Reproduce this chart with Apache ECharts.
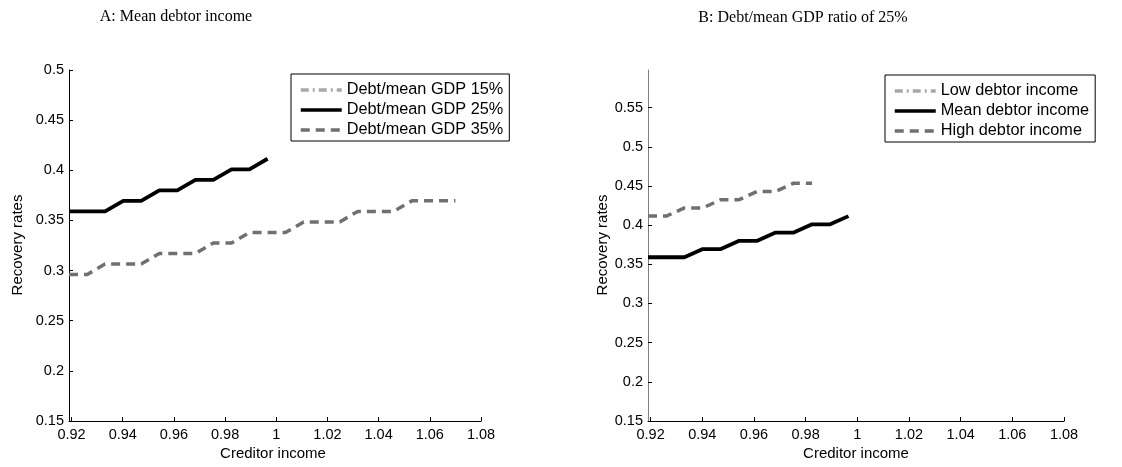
<!DOCTYPE html>
<html><head><meta charset="utf-8">
<script src="https://cdn.jsdelivr.net/npm/echarts@6/dist/echarts.min.js"></script>
<style>html,body{margin:0;padding:0;background:#fff}#c{width:1122px;height:467px}</style>
</head><body><div id="c"></div>
<script>
// ---- data ----
const creditorIncome = [0.9190, 0.9261, 0.9331, 0.9402, 0.9472, 0.9543, 0.9613, 0.9684, 0.9754, 0.9825, 0.9895,
  0.9966, 1.0036, 1.0107, 1.0177, 1.0248, 1.0318, 1.0389, 1.0459, 1.0530, 1.0610, 1.0700];
// Panel A: mean debtor income
const debt15 = [];
const debt25 = [0.359, 0.359, 0.359, 0.3695, 0.3695, 0.380, 0.380, 0.3905, 0.3905, 0.401, 0.401, 0.4115];
const debt35 = [0.296, 0.296, 0.3065, 0.3065, 0.3065, 0.317, 0.317, 0.317, 0.3275, 0.3275, 0.338, 0.338,
  0.338, 0.3485, 0.3485, 0.3485, 0.359, 0.359, 0.359, 0.3695, 0.3695, 0.3695];
// Panel B: debt/mean GDP 25%
const lowIncome = [];
const meanIncome = [0.359, 0.359, 0.359, 0.3695, 0.3695, 0.380, 0.380, 0.3905, 0.3905, 0.401, 0.401, 0.4115];
const highIncome = [0.4115, 0.4115, 0.422, 0.422, 0.4325, 0.4325, 0.443, 0.443, 0.4535, 0.4535];

const xTicks = [0.92, 0.94, 0.96, 0.98, 1, 1.02, 1.04, 1.06, 1.08];
const xTickLabels = ['0.92', '0.94', '0.96', '0.98', '1', '1.02', '1.04', '1.06', '1.08'];
const yTicksA = [0.15, 0.2, 0.25, 0.3, 0.35, 0.4, 0.45, 0.5];
const yTickLabelsA = ['0.15', '0.2', '0.25', '0.3', '0.35', '0.4', '0.45', '0.5'];
const yTicksB = [0.15, 0.2, 0.25, 0.3, 0.35, 0.4, 0.45, 0.5, 0.55];
const yTickLabelsB = ['0.15', '0.2', '0.25', '0.3', '0.35', '0.4', '0.45', '0.5', '0.55'];

const namesA = ['Debt/mean GDP 15%', 'Debt/mean GDP 25%', 'Debt/mean GDP 35%'];
const namesB = ['Low debtor income', 'Mean debtor income', 'High debtor income'];

// ---- helpers ----
const pairs = (ys) => ys.map((y, i) => [creditorIncome[i], y]);
const fmt = (ticks, labels) => (v) => {
  for (let i = 0; i < ticks.length; i++) if (Math.abs(ticks[i] - v) < 1e-9) return labels[i];
  return '';
};
const FONT = 'Liberation Sans';
function xAxis(idx) {
  return {
    type: 'value', gridIndex: idx, min: 0.919, max: 1.08,
    axisLine: { show: true, onZero: false, lineStyle: { color: '#000', width: 1 } },
    axisTick: { show: true, inside: true, length: 4, customValues: xTicks, lineStyle: { color: '#000', width: 1 } },
    axisLabel: { customValues: xTicks, formatter: fmt(xTicks, xTickLabels), color: '#000', fontSize: 14.5, fontFamily: FONT, margin: 6 },
    splitLine: { show: false }
  };
}
function yAxis(idx, max, ticks, labels, lineColor) {
  return {
    type: 'value', gridIndex: idx, min: 0.15, max: max,
    axisLine: { show: true, onZero: false, lineStyle: { color: lineColor, width: 1 } },
    axisTick: { show: true, inside: true, length: 4, customValues: ticks, lineStyle: { color: '#000', width: 1 } },
    axisLabel: { customValues: ticks, formatter: fmt(ticks, labels), color: '#000', fontSize: 14.5, fontFamily: FONT, margin: 5 },
    splitLine: { show: false }
  };
}
const styles = [
  { color: '#a8a8a8', width: 3.5, type: [8, 4, 2, 4] },
  { color: '#000000', width: 3.8, type: 'solid' },
  { color: '#707070', width: 3.5, type: [9, 6] }
];
function mkSeries(name, ys, st, gi) {
  return {
    name: name, type: 'line', xAxisIndex: gi, yAxisIndex: gi, data: pairs(ys),
    symbol: 'none', showSymbol: false, animation: false, silent: true,
    itemStyle: { color: st.color },
    lineStyle: { color: st.color, width: st.width, type: st.type }
  };
}
function legend(names, left, top) {
  return {
    data: names, left: left, top: top, orient: 'vertical',
    itemWidth: 41, itemHeight: 14, itemGap: 4, padding: [8, 6, 3, 8],
    borderColor: '#000', borderWidth: 1, backgroundColor: '#fff',
    selectedMode: false,
    itemStyle: { opacity: 0 },
    lineStyle: { width: 3.5 },
    textStyle: { fontSize: 16.3, fontFamily: FONT, color: '#000', lineHeight: 16 }
  };
}
function txt(text, x, y, opts) {
  return Object.assign({
    type: 'text', x: x, y: y, silent: true,
    style: Object.assign({ text: text, fill: '#000', textAlign: 'center', textVerticalAlign: 'middle',
      font: '15px "' + FONT + '"' }, opts && opts.style || {})
  }, opts && opts.rot ? { rotation: Math.PI / 2 } : {});
}

const chart = echarts.init(document.getElementById('c'), null, { renderer: 'canvas' });
chart.setOption({
  animation: false,
  backgroundColor: '#fff',
  grid: [
    { left: 69, right: 641, top: 70, bottom: 46 },
    { left: 648, right: 58, top: 70, bottom: 46 }
  ],
  xAxis: [xAxis(0), xAxis(1)],
  yAxis: [yAxis(0, 0.5, yTicksA, yTickLabelsA, '#000'), yAxis(1, 0.598, yTicksB, yTickLabelsB, '#808080')],
  legend: [legend(namesA, 291, 74), legend(namesB, 885, 75)],
  series: [
    mkSeries(namesA[0], debt15, styles[0], 0),
    mkSeries(namesA[1], debt25, styles[1], 0),
    mkSeries(namesA[2], debt35, styles[2], 0),
    mkSeries(namesB[0], lowIncome, styles[0], 1),
    mkSeries(namesB[1], meanIncome, styles[1], 1),
    mkSeries(namesB[2], highIncome, styles[2], 1)
  ],
  graphic: [
    txt('A: Mean debtor income', 176, 17, { style: { font: '16px "Liberation Serif"' } }),
    txt('B: Debt/mean GDP ratio of 25%', 803, 18, { style: { font: '16px "Liberation Serif"' } }),
    txt('Creditor income', 273, 454),
    txt('Creditor income', 856, 454),
    txt('Recovery rates', 18, 245, { rot: true }),
    txt('Recovery rates', 603, 245, { rot: true })
  ]
});
</script>
</body></html>
